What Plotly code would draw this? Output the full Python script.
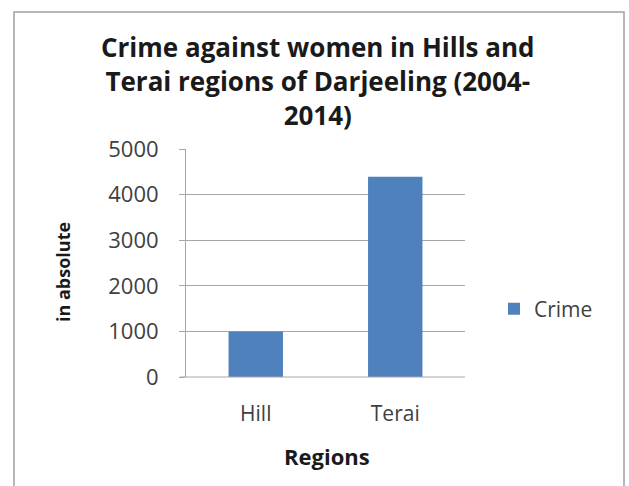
import plotly.graph_objects as go

categories = ["Hill", "Terai"]
crime_values = [1000, 4390]
y_ticks = [0, 1000, 2000, 3000, 4000, 5000]

W, H = 629, 486
L, R, T, B = 186, 164, 149, 109
pw, ph = W - L - R, H - T - B

def px(x):
    return (x - L) / pw

def py(y):
    return (H - B - y) / ph

font_family = "Open Sans, sans-serif"

fig = go.Figure()
fig.add_trace(go.Bar(
    x=categories, y=crime_values, name="Crime",
    marker=dict(color="#4f81bd", line=dict(width=0)),
    showlegend=True,
))

fig.update_layout(
    width=W, height=H,
    margin=dict(l=L, r=R, t=T, b=B),
    paper_bgcolor="white", plot_bgcolor="white",
    bargap=0.61,
    font=dict(family=font_family, color="#404040"),
    showlegend=True,
    legend=dict(
        x=px(494), y=py(309), xanchor="left", yanchor="middle",
        font=dict(size=21, color="#404040", family=font_family),
        itemwidth=30, bgcolor="rgba(0,0,0,0)",
    ),
    xaxis=dict(
        showgrid=False, showline=False, ticks="",
        tickfont=dict(size=21, color="#404040"),
        ticklabelstandoff=22,
    ),
    yaxis=dict(
        range=[0, 5000], tickvals=y_ticks,
        showgrid=True, gridcolor="#a6a6a6", gridwidth=1,
        showline=True, linecolor="#a6a6a6", linewidth=1,
        ticks="outside", ticklen=6, tickcolor="#a6a6a6",
        tickfont=dict(size=22, color="#404040"),
        ticklabelstandoff=16,
        zeroline=False,
    ),
    shapes=[
        dict(type="rect", xref="paper", yref="paper",
             x0=px(14), x1=px(624), y0=py(520), y1=py(12),
             line=dict(color="#a0a0a0", width=1.5), layer="below"),
        dict(type="line", xref="paper", yref="paper",
             x0=px(180), x1=1, y0=0, y1=0,
             line=dict(color="#a6a6a6", width=1)),
    ],
    annotations=[
        dict(text="<b>Crime against women in Hills and<br>Terai regions of Darjeeling (2004-<br>2014)</b>",
             xref="paper", yref="paper", x=px(318), y=py(81),
             xanchor="center", yanchor="middle", showarrow=False,
             font=dict(size=26, color="#1a1a1a", family=font_family),
             align="center"),
        dict(text="<b>in absolute</b>", xref="paper", yref="paper",
             x=px(63), y=py(272), textangle=-90,
             xanchor="center", yanchor="middle", showarrow=False,
             font=dict(size=18, color="#1a1a1a", family=font_family)),
        dict(text="<b>Regions</b>", xref="paper", yref="paper",
             x=px(327), y=py(456), xanchor="center", yanchor="middle",
             showarrow=False,
             font=dict(size=22, color="#1a1a1a", family=font_family)),
    ],
)

fig.write_html("out.html")
